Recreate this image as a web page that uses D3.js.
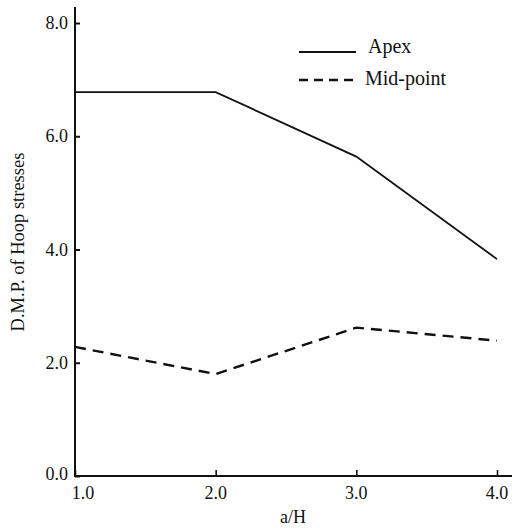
<!DOCTYPE html>
<html>
<head>
<meta charset="utf-8">
<script src="https://cdn.jsdelivr.net/npm/d3@7"></script>
<style>
  html, body { margin: 0; padding: 0; background: #fff; }
  svg text { font-family: "Liberation Serif", "DejaVu Serif", serif; fill: #111; }
</style>
</head>
<body>
<svg id="chart" width="524" height="529"></svg>
<script>
// a/H ratios along the x axis
const ratios = [1.0, 2.0, 3.0, 4.0];
// D.M.P. of hoop stresses at the apex and at the mid-point
const apexValues = [6.78, 6.78, 5.64, 3.83];
const midValues = [2.28, 1.80, 2.62, 2.39];
const xTicks = [1.0, 2.0, 3.0, 4.0];
const yTicks = [0.0, 2.0, 4.0, 6.0, 8.0];
const seriesNames = ["Apex", "Mid-point"];

const svg = d3.select("#chart");
const plotLeft = 75, plotRight = 497, plotTop = 23, plotBottom = 476;

const x = d3.scaleLinear().domain([1, 4]).range([plotLeft, plotRight]);
const y = d3.scaleLinear().domain([0, 8]).range([plotBottom, plotTop]);

// axis lines
svg.append("line").attr("x1", plotLeft).attr("x2", plotLeft).attr("y1", 7).attr("y2", plotBottom + 1)
  .attr("stroke", "#111").attr("stroke-width", 2);
svg.append("line").attr("x1", plotLeft - 1).attr("x2", 512).attr("y1", plotBottom).attr("y2", plotBottom)
  .attr("stroke", "#111").attr("stroke-width", 2);

// y axis: inward ticks
const yAxis = d3.axisRight(y).tickValues(yTicks).tickSize(5).tickFormat("");
const gy = svg.append("g").attr("transform", `translate(${plotLeft},0)`).call(yAxis);
gy.select(".domain").remove();
gy.selectAll(".tick line").attr("stroke", "#111").attr("stroke-width", 2);
svg.selectAll(".ylab").data(yTicks).enter().append("text")
  .attr("class", "ylab")
  .attr("x", plotLeft - 7).attr("y", d => y(d) + (d === 0 ? -2 : 0))
  .attr("text-anchor", "end").attr("dominant-baseline", "central")
  .attr("font-size", 18).text(d => d.toFixed(1));

// x axis: inward ticks
const xAxis = d3.axisTop(x).tickValues(xTicks).tickSize(6).tickFormat("");
const gx = svg.append("g").attr("transform", `translate(0,${plotBottom})`).call(xAxis);
gx.select(".domain").remove();
gx.selectAll(".tick line").attr("stroke", "#111").attr("stroke-width", 1.6);
svg.selectAll(".xlab").data(xTicks).enter().append("text")
  .attr("class", "xlab")
  .attr("x", (d, i) => x(d) + (i === 0 ? 8 : 0)).attr("y", 499)
  .attr("text-anchor", "middle")
  .attr("font-size", 18).text(d => d.toFixed(1));

// axis titles
svg.append("text").attr("x", 293).attr("y", 523).attr("text-anchor", "middle")
  .attr("font-size", 18).text("a/H");
svg.append("text").attr("transform", "translate(24,242) rotate(-90)")
  .attr("text-anchor", "middle").attr("font-size", 18.5).text("D.M.P. of Hoop stresses");

// series lines
const line = d3.line().x((d, i) => x(ratios[i])).y(d => y(d));
svg.append("path").datum(apexValues).attr("d", line)
  .attr("fill", "none").attr("stroke", "#111").attr("stroke-width", 1.8);
svg.append("path").datum(midValues).attr("d", line)
  .attr("fill", "none").attr("stroke", "#111").attr("stroke-width", 2.4)
  .attr("stroke-dasharray", "11,7");

// legend
const legend = svg.append("g");
legend.append("line").attr("x1", 299).attr("x2", 356).attr("y1", 52).attr("y2", 52)
  .attr("stroke", "#111").attr("stroke-width", 1.8);
legend.append("line").attr("x1", 299).attr("x2", 356).attr("y1", 80).attr("y2", 80)
  .attr("stroke", "#111").attr("stroke-width", 2.4).attr("stroke-dasharray", "9,6");
legend.append("text").attr("x", 368).attr("y", 53).attr("font-size", 20).text(seriesNames[0]);
legend.append("text").attr("x", 365).attr("y", 85).attr("font-size", 20).text(seriesNames[1]);
</script>
</body>
</html>
